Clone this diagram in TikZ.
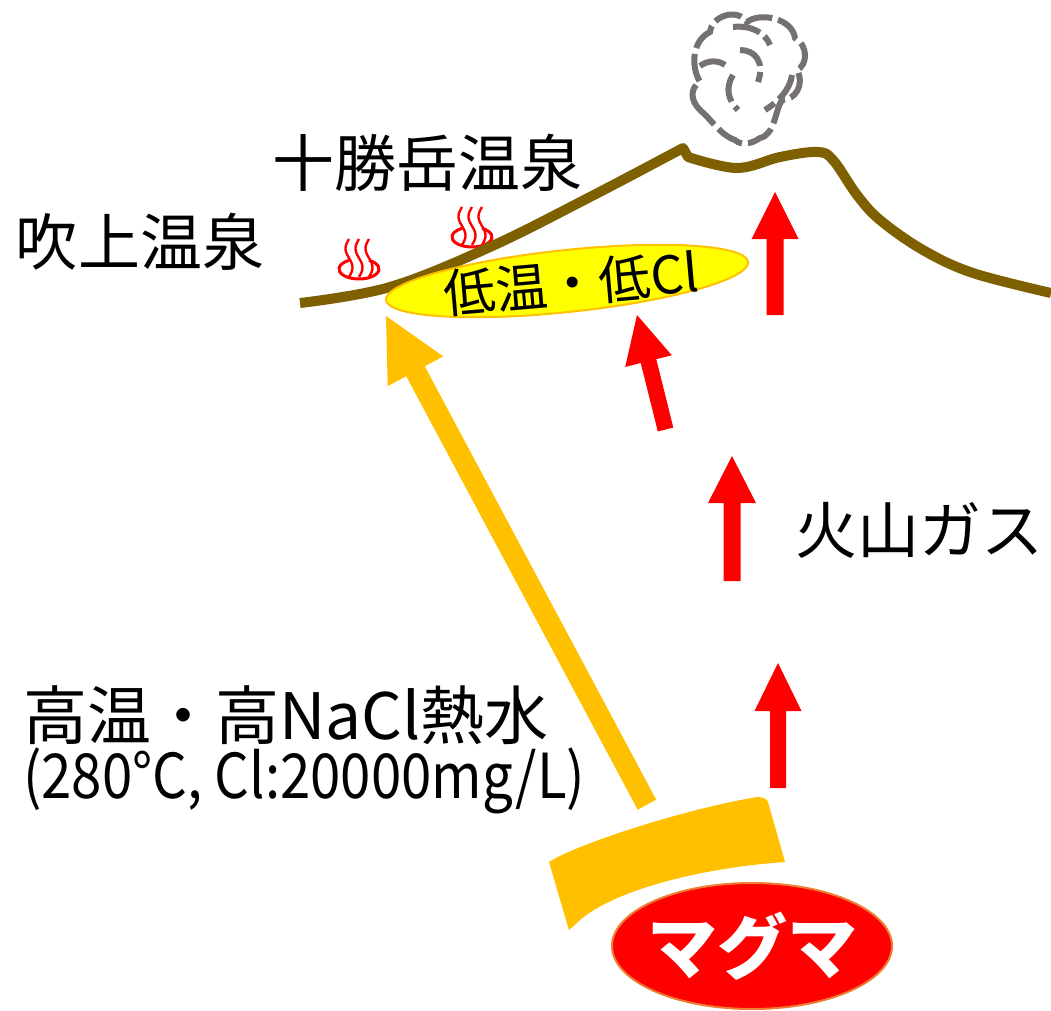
\documentclass[tikz,border=0pt]{standalone}
\usepackage{fontspec}
\newfontfamily\jp{Noto Sans CJK JP}
\usetikzlibrary{shapes.geometric}

\definecolor{ridge}{HTML}{7F6000}
\definecolor{gasred}{HTML}{FF0000}
\definecolor{hot}{HTML}{FFC000}
\definecolor{pool}{HTML}{FFFF00}
\definecolor{magmaedge}{HTML}{ED7D31}
\definecolor{smoke}{HTML}{767171}
\definecolor{spring}{HTML}{FF0000}

% block arrow: style, tip, rotation, length, shaft half width, head half width, head length
\newcommand\blockarrow[7]{%
  \fill[#1, shift={(#2)}, rotate=#3]
    (0,0) -- (#6,#7) -- (#5,#7) -- (#5,#4) -- (-#5,#4) -- (-#5,#7) -- (-#6,#7) -- cycle;}

\tikzset{
  lbl/.style={font=\jp\fontsize{62pt}{70pt}\selectfont, inner sep=0pt},
  ridgeline/.style={draw=ridge, line width=10pt, line join=round},
  puff/.style={draw=smoke, line width=6pt, dash pattern=on 28pt off 6pt},
  onsen/.pic={
    \draw[spring, line width=3pt] (300:20 and 10)
      arc[start angle=300, end angle=600, x radius=20, y radius=10];
    \foreach \dx in {-10,0,10}
      \draw[spring, line width=2.4pt] plot[domain=0:1, samples=25, smooth, variable=\t]
        ({\dx + 3.5*sin(360*\t)}, {8 - 38*\t});
  }
}

\begin{document}
\begin{tikzpicture}[x=1pt,y=-1pt]
\useasboundingbox (0,0) rectangle (1051,1010);
\fill[white] (0,0) rectangle (1051,1010);

% eruption plume
\draw[puff] (700,110) .. controls (690,100) and (690,88) .. (700,82)
  .. controls (690,65) and (693,40) .. (710,32)
  .. controls (712,15) and (738,8) .. (747,22)
  .. controls (760,12) and (792,18) .. (795,38)
  .. controls (808,45) and (808,65) .. (797,70)
  .. controls (805,85) and (795,100) .. (782,100)
  .. controls (775,110) and (775,135) .. (760,138)
  .. controls (750,145) and (740,145) .. (735,140)
  .. controls (720,135) and (712,120) .. (700,110);
\draw[puff] (700,66) .. controls (708,60) and (718,60) .. (725,65);
\draw[puff] (733,27) .. controls (750,25) and (765,32) .. (770,45);
\draw[puff] (740,50) .. controls (755,50) and (765,62) .. (758,82);
\draw[puff] (733,75) .. controls (725,88) and (728,100) .. (738,110);
\draw[puff] (792,75) .. controls (790,90) and (778,102) .. (765,110);

% hot springs
\pic at (359,269) {onsen};
\pic at (472,237) {onsen};

% mountain profile
\draw[ridgeline] plot[smooth, tension=0.6] coordinates {(300,303) (390,287) (490,247) (590,197) (683,148)}
  -- plot[smooth, tension=0.6] coordinates {(688,157) (737,168) (780,157) (817,152) (833,160) (857,195) (880,220) (923,250) (973,273) (1051,293)};

% shallow reservoir
\node[ellipse, draw=hot, line width=2pt, fill=pool, minimum width=364pt, minimum height=62pt,
      inner sep=0pt, rotate=6] (pool) at (567,281) {};
\node[font=\jp\fontsize{52pt}{60pt}\selectfont, inner sep=0pt, rotate=5] (poollbl) at (571,283) {低温・低Cl};

% volcanic gas
\coordinate (g1) at (775,192);
\coordinate (g2) at (637,315);
\coordinate (g3) at (732,456);
\coordinate (g4) at (778,663);
\blockarrow{gasred}{g1}{0}{123}{8.5}{23.5}{47}
\blockarrow{gasred}{g2}{14}{118}{8}{24}{47.5}
\blockarrow{gasred}{g3}{0}{125}{8.5}{24}{47}
\blockarrow{gasred}{g4}{0}{125}{8}{23.5}{48}

% deep brine
\coordinate (brine) at (386,316);
\blockarrow{hot}{brine}{28.1}{554}{10.5}{31.5}{62.6}
\fill[hot] (549,862) .. controls (575,845) and (680,810) .. (757,797)
  .. controls (764,797) and (767,799) .. (768,802) -- (785,862)
  .. controls (700,868) and (615,890) .. (580,920)
  .. controls (575,925) and (571,928) .. (569,930) -- cycle;

% magma
\node[ellipse, draw=magmaedge, line width=2pt, fill=gasred, minimum width=280pt, minimum height=126pt,
      inner sep=0pt] (magma) at (752,946) {};
\node[font=\jp\bfseries\fontsize{70pt}{78pt}\selectfont, text=white, inner sep=0pt] (magmalbl) at (magma.center) {マグマ};

% labels
\node[lbl] (fukiage) at (140,242) {吹上温泉};
\node[lbl] (tokachi) at (427,163) {十勝岳温泉};
\node[lbl] (gas) at (919,530) {火山ガス};
\node[lbl, font=\jp\fontsize{64pt}{72pt}\selectfont, anchor=west] (brinelbl) at (23,715) {高温・高NaCl熱水};
\node[lbl, anchor=west, xscale=0.88] (brinedata) at (23,781) {(280°C, Cl:20000mg/L)};
\end{tikzpicture}
\end{document}
